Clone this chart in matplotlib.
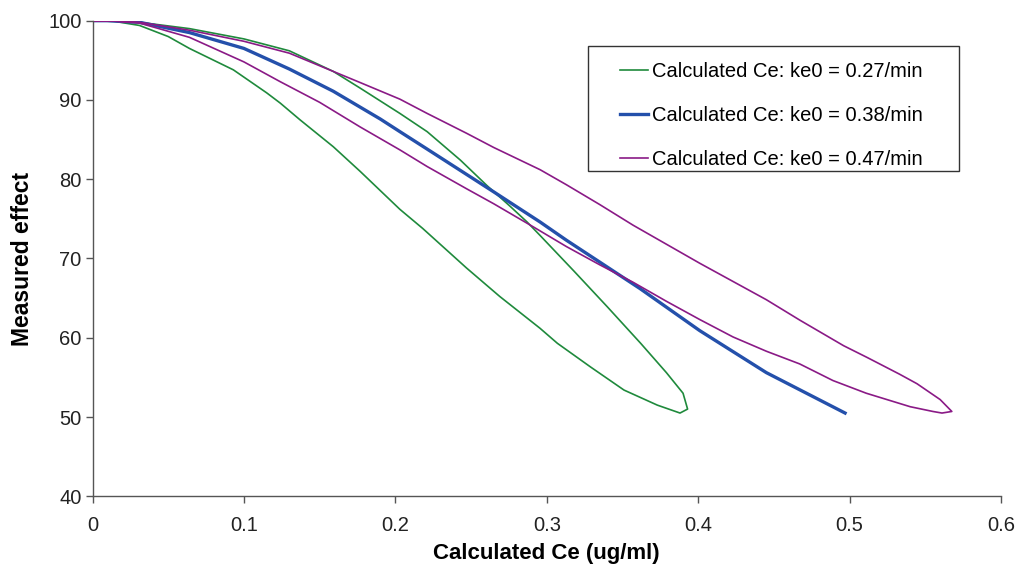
import numpy as np
import matplotlib
matplotlib.use('Agg')
import matplotlib.pyplot as plt
from matplotlib.patches import Rectangle

plt.rcParams['font.family'] = ['Liberation Sans', 'DejaVu Sans']

# ke0 = 0.27/min : out along the upper branch, back along the lower one
green_x = [0, 0.01, 0.031, 0.064, 0.10, 0.130, 0.159, 0.1767, 0.203, 0.221, 0.243,
           0.2605, 0.2757, 0.287, 0.2956, 0.318, 0.340, 0.362, 0.379, 0.390, 0.393, 0.388,
           0.373, 0.351, 0.329, 0.307, 0.2955, 0.269, 0.247, 0.218, 0.203, 0.1767,
           0.159, 0.137, 0.124, 0.115, 0.093, 0.064, 0.05, 0.031, 0.015, 0]
green_y = [100, 100, 99.8, 99.0, 97.7, 96.2, 93.6, 91.5, 88.3, 86.0, 82.4,
           79.2, 76.6, 74.6, 72.9, 68.4, 63.9, 59.3, 55.6, 53.0, 51.0, 50.5,
           51.5, 53.4, 56.3, 59.3, 61.2, 65.2, 68.8, 73.8, 76.2, 81.0,
           84.1, 87.5, 89.6, 90.9, 93.8, 96.5, 98.0, 99.4, 99.9, 100]

# ke0 = 0.38/min : loop almost collapsed to a single line
blue_x = [0, 0.01, 0.031, 0.064, 0.10, 0.130, 0.159, 0.1767, 0.190, 0.203, 0.221,
          0.265, 0.2956, 0.313, 0.3616, 0.401, 0.445, 0.497]
blue_y = [100, 100, 99.8, 98.5, 96.5, 93.9, 91.1, 89.1, 87.6, 86.0, 83.8,
          78.4, 74.6, 72.3, 66.2, 60.9, 55.6, 50.5]

# ke0 = 0.47/min
purple_x = [0, 0.01, 0.031, 0.064, 0.10, 0.130, 0.159, 0.1767, 0.203, 0.221, 0.247,
            0.265, 0.2956, 0.313, 0.335, 0.357, 0.379, 0.401, 0.423, 0.445, 0.4673,
            0.496, 0.5117, 0.533, 0.5445, 0.5598, 0.5675,
            0.561, 0.555, 0.540, 0.511, 0.489, 0.467, 0.445, 0.423, 0.401, 0.379,
            0.357, 0.335, 0.313, 0.291, 0.265, 0.247, 0.221, 0.203, 0.1767, 0.150,
            0.124, 0.10, 0.064, 0.031, 0.01, 0]
purple_y = [100, 100, 99.8, 98.8, 97.4, 95.9, 93.6, 92.2, 90.1, 88.3, 85.8,
            84.0, 81.2, 79.3, 76.8, 74.2, 71.8, 69.4, 67.1, 64.8, 62.2,
            59.0, 57.5, 55.4, 54.2, 52.2, 50.7,
            50.5, 50.7, 51.3, 53.0, 54.6, 56.7, 58.3, 60.1, 62.3, 64.6,
            67.0, 69.2, 71.5, 74.0, 76.9, 78.8, 81.6, 83.7, 86.6, 89.7,
            92.3, 94.8, 97.9, 99.7, 100, 100]

labels = ['Calculated Ce: ke0 = 0.27/min',
          'Calculated Ce: ke0 = 0.38/min',
          'Calculated Ce: ke0 = 0.47/min']

fig = plt.figure(figsize=(10.2, 5.73), dpi=100)
ax = fig.add_axes([0.0907, 0.1339, 0.8907, 0.8300])

ax.plot(green_x, green_y, color='#1f8a3c', linewidth=1.2, label=labels[0])
ax.plot(blue_x, blue_y, color='#2450ab', linewidth=2.4, label=labels[1])
ax.plot(purple_x, purple_y, color='#8a1a86', linewidth=1.2, label=labels[2])

ax.set_xlim(0, 0.6)
ax.set_ylim(40, 100)
ax.set_xticks(np.arange(0, 0.61, 0.1))
ax.set_xticklabels(['0', '0.1', '0.2', '0.3', '0.4', '0.5', '0.6'])
ax.set_yticks(range(40, 101, 10))

for side in ['top', 'right']:
    ax.spines[side].set_visible(False)
for side in ['left', 'bottom']:
    ax.spines[side].set_color('#555555')
    ax.spines[side].set_linewidth(1.0)
ax.tick_params(direction='out', length=5, width=1.0, color='#555555',
               labelsize=14.5, labelcolor='#222222')
ax.tick_params(axis='x', pad=9)
ax.tick_params(axis='y', pad=3)

ax.set_xlabel('Calculated Ce (ug/ml)', fontsize=16, fontweight='bold', labelpad=6)
ax.set_ylabel('Measured effect', fontsize=16.5, fontweight='bold', labelpad=10)

# legend entries without a frame, box drawn separately (wider padding than legend allows)
ax.legend(loc='upper left', bbox_to_anchor=(0.5806, 0.914), borderaxespad=0,
          fontsize=14.5, frameon=False, labelspacing=1.25,
          handlelength=1.4, handletextpad=0.2, borderpad=0)
ax.add_patch(Rectangle((0.5454, 0.684), 0.4078, 0.2628, transform=ax.transAxes,
                       facecolor='none', edgecolor='#333333', linewidth=1.0,
                       clip_on=False, zorder=5))

fig.savefig('out.png', dpi=100)
